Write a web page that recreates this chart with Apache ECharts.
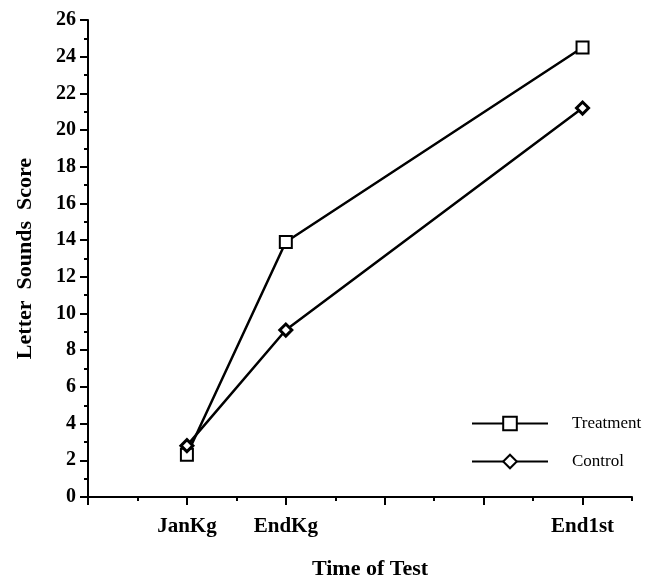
<!DOCTYPE html>
<html>
<head>
<meta charset="utf-8">
<script src="https://cdn.jsdelivr.net/npm/echarts@6/dist/echarts.min.js"></script>
<style>html,body{margin:0;padding:0;background:#fff}#c{width:648px;height:585px}</style>
</head>
<body>
<div id="c"></div>
<script>
var categories = ['JanKg', 'EndKg', 'End1st'];
var timePositions = [1, 2, 5];
var treatment = [2.3, 13.9, 24.5];
var control = [2.8, 9.1, 21.2];
var yTicks = [0, 2, 4, 6, 8, 10, 12, 14, 16, 18, 20, 22, 24, 26];

function pairs(vals) {
  return timePositions.map(function (x, i) { return [x, vals[i]]; });
}
var serif = '"Liberation Serif", "Times New Roman", serif';
var chart = echarts.init(document.getElementById('c'));
chart.setOption({
  animation: false,
  backgroundColor: '#fff',
  grid: { left: 88, right: 16, top: 20, bottom: 86 },
  legend: {
    orient: 'vertical',
    left: 466,
    top: 410,
    itemWidth: 76,
    itemHeight: 17,
    itemGap: 21,
    textStyle: { fontFamily: serif, fontSize: 17, color: '#000', padding: [0, 0, 0, 19] },
    data: ['Treatment', 'Control']
  },
  xAxis: [{
    type: 'value',
    min: 0,
    max: 5.5,
    interval: 1,
    name: 'Time of Test',
    nameLocation: 'middle',
    nameGap: 61,
    nameTextStyle: { fontFamily: serif, fontSize: 22, fontWeight: 'bold', color: '#000', padding: [0, 0, 0, 20] },
    axisLine: { show: true, lineStyle: { color: '#000', width: 2 } },
    axisTick: { show: true, length: 8, lineStyle: { color: '#000', width: 2 }, customValues: [0, 1, 2, 3, 4, 5] },
    axisLabel: {
      customValues: timePositions,
      margin: 19,
      fontFamily: serif, fontSize: 21, fontWeight: 'bold', color: '#000',
      formatter: function (v) {
        var i = timePositions.indexOf(v);
        return i >= 0 ? categories[i] : '';
      }
    },
    splitLine: { show: false }
  }, {
    type: 'value',
    min: 0,
    max: 5.5,
    position: 'bottom',
    axisLine: { show: false },
    axisTick: { show: true, length: 4, lineStyle: { color: '#000', width: 2 }, customValues: [0.5, 1.5, 2.5, 3.5, 4.5, 5.5] },
    axisLabel: { show: false },
    splitLine: { show: false }
  }],
  yAxis: {
    type: 'value',
    min: 0,
    max: 26,
    interval: 2,
    name: 'Letter  Sounds  Score',
    nameLocation: 'middle',
    nameGap: 52,
    nameTextStyle: { fontFamily: serif, fontSize: 22, fontWeight: 'bold', color: '#000' },
    axisLine: { show: true, lineStyle: { color: '#000', width: 2 } },
    axisTick: { show: true, length: 8, lineStyle: { color: '#000', width: 2 } },
    minorTick: { show: true, splitNumber: 2, length: 4, lineStyle: { color: '#000', width: 2 } },
    axisLabel: {
      margin: 12,
      fontFamily: serif, fontSize: 20, fontWeight: 'bold', color: '#000',
      formatter: function (v) { return yTicks.indexOf(v) >= 0 ? String(v) : ''; }
    },
    splitLine: { show: false }
  },
  series: [{
    name: 'Treatment',
    type: 'line',
    data: pairs(treatment),
    symbol: 'rect',
    symbolSize: 12,
    lineStyle: { color: '#000', width: 2.5 },
    itemStyle: { color: '#fff', borderColor: '#000', borderWidth: 2 },
    z: 3
  }, {
    name: 'Control',
    type: 'line',
    data: pairs(control),
    symbol: 'diamond',
    symbolSize: [12, 12],
    lineStyle: { color: '#000', width: 2.5 },
    itemStyle: { color: '#fff', borderColor: '#000', borderWidth: 3 },
    z: 4
  }]
});
</script>
</body>
</html>
